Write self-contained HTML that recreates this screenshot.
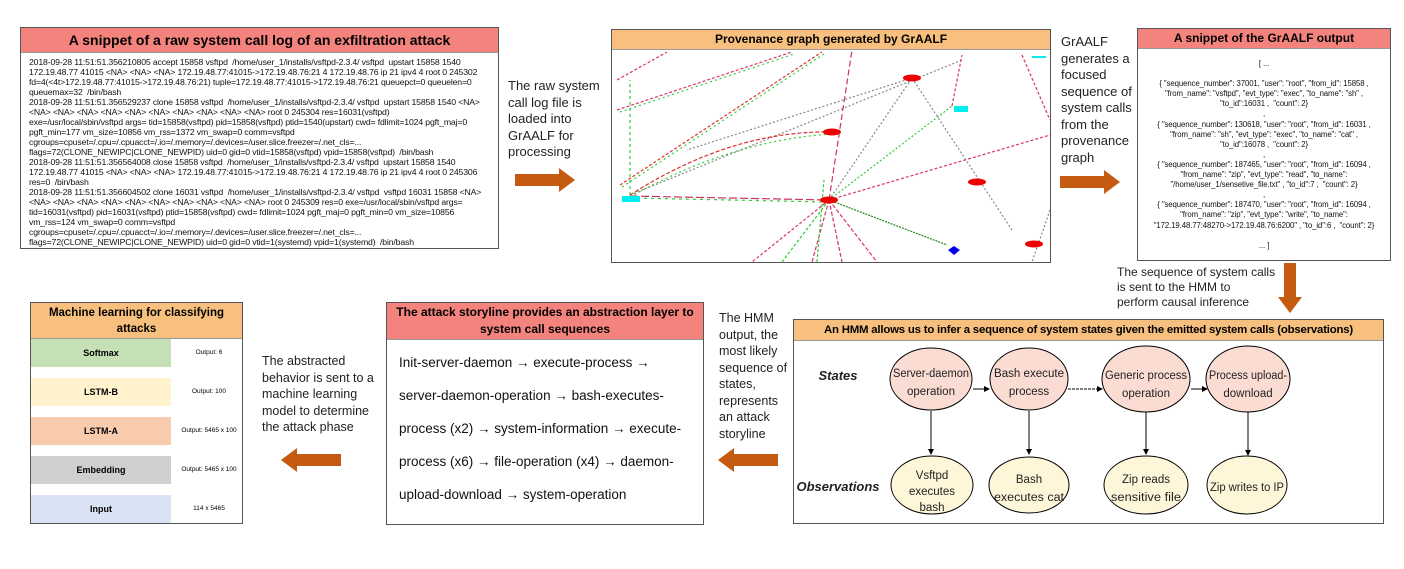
<!DOCTYPE html>
<html><head><meta charset="utf-8"><style>
body{margin:0;width:1404px;height:569px;background:#fff;position:relative;overflow:hidden;font-family:"Liberation Sans",sans-serif;color:#000}
.a{position:absolute}
.box{position:absolute;border:1px solid #555;background:#fff;box-sizing:border-box}
.tt{font-weight:bold;text-align:center;box-sizing:border-box;border-bottom:1px solid #999;line-height:1.25}
.red{background:#F4837D}.org{background:#F8C07E}
.txt{position:absolute;font-size:13px;line-height:16.5px;color:#222}
.log{font-size:8.7px;line-height:10px;padding:4px 8px;letter-spacing:-0.15px;color:#111;white-space:nowrap}
.js{font-size:7.8px;line-height:10.1px;text-align:center;color:#111;letter-spacing:-0.1px}
.layer{position:absolute;left:0;width:140px;height:28px;font-size:9px;font-weight:bold;text-align:center;line-height:28px}
.lab{position:absolute;left:144px;width:68px;font-size:6.5px;text-align:center}
.st{font-size:16px;line-height:33px;padding:6px 12px;color:#111}
</style></head><body>

<!-- Box 1 -->
<div class="box" style="left:20px;top:27px;width:479px;height:222px">
<div class="tt red" style="height:25px;font-size:14px;line-height:24px">A snippet of a raw system call log of an exfiltration attack</div>
<div class="log">2018-09-28 11:51:51.356210805 accept 15858 vsftpd &nbsp;/home/user_1/installs/vsftpd-2.3.4/ vsftpd &nbsp;upstart 15858 1540<br>
172.19.48.77 41015 &lt;NA&gt; &lt;NA&gt; &lt;NA&gt; 172.19.48.77:41015-&gt;172.19.48.76:21 4 172.19.48.76 ip 21 ipv4 4 root 0 245302<br>
fd=4(&lt;4t&gt;172.19.48.77:41015-&gt;172.19.48.76:21) tuple=172.19.48.77:41015-&gt;172.19.48.76:21 queuepct=0 queuelen=0<br>
queuemax=32 &nbsp;/bin/bash<br>
2018-09-28 11:51:51.356529237 clone 15858 vsftpd &nbsp;/home/user_1/installs/vsftpd-2.3.4/ vsftpd &nbsp;upstart 15858 1540 &lt;NA&gt;<br>
&lt;NA&gt; &lt;NA&gt; &lt;NA&gt; &lt;NA&gt; &lt;NA&gt; &lt;NA&gt; &lt;NA&gt; &lt;NA&gt; &lt;NA&gt; &lt;NA&gt; root 0 245304 res=16031(vsftpd)<br>
exe=/usr/local/sbin/vsftpd args= tid=15858(vsftpd) pid=15858(vsftpd) ptid=1540(upstart) cwd= fdlimit=1024 pgft_maj=0<br>
pgft_min=177 vm_size=10856 vm_rss=1372 vm_swap=0 comm=vsftpd<br>
cgroups=cpuset=/.cpu=/.cpuacct=/.io=/.memory=/.devices=/user.slice.freezer=/.net_cls=...<br>
flags=72(CLONE_NEWIPC|CLONE_NEWPID) uid=0 gid=0 vtid=15858(vsftpd) vpid=15858(vsftpd) &nbsp;/bin/bash<br>
2018-09-28 11:51:51.356564008 close 15858 vsftpd &nbsp;/home/user_1/installs/vsftpd-2.3.4/ vsftpd &nbsp;upstart 15858 1540<br>
172.19.48.77 41015 &lt;NA&gt; &lt;NA&gt; &lt;NA&gt; 172.19.48.77:41015-&gt;172.19.48.76:21 4 172.19.48.76 ip 21 ipv4 4 root 0 245306<br>
res=0 &nbsp;/bin/bash<br>
2018-09-28 11:51:51.356604502 clone 16031 vsftpd &nbsp;/home/user_1/installs/vsftpd-2.3.4/ vsftpd &nbsp;vsftpd 16031 15858 &lt;NA&gt;<br>
&lt;NA&gt; &lt;NA&gt; &lt;NA&gt; &lt;NA&gt; &lt;NA&gt; &lt;NA&gt; &lt;NA&gt; &lt;NA&gt; &lt;NA&gt; &lt;NA&gt; root 0 245309 res=0 exe=/usr/local/sbin/vsftpd args=<br>
tid=16031(vsftpd) pid=16031(vsftpd) ptid=15858(vsftpd) cwd= fdlimit=1024 pgft_maj=0 pgft_min=0 vm_size=10856<br>
vm_rss=124 vm_swap=0 comm=vsftpd<br>
cgroups=cpuset=/.cpu=/.cpuacct=/.io=/.memory=/.devices=/user.slice.freezer=/.net_cls=...<br>
flags=72(CLONE_NEWIPC|CLONE_NEWPID) uid=0 gid=0 vtid=1(systemd) vpid=1(systemd) &nbsp;/bin/bash</div>
</div>

<div class="txt" style="left:508px;top:78px;width:100px">The raw system call log file is loaded into GrAALF for processing</div>
<svg class="a" style="left:515px;top:168px" width="62" height="24"><polygon points="0,6 44,6 44,0 60,12 44,24 44,18 0,18" fill="#C55A11"/></svg>

<!-- Box 2 provenance -->
<div class="box" style="left:611px;top:29px;width:440px;height:234px">
<div class="tt org" style="height:20px;font-size:12px;line-height:19px">Provenance graph generated by GrAALF</div>
<svg width="438" height="212" style="display:block">
<g stroke-width="1.2" fill="none">
<line x1="8" y1="135" x2="210" y2="2" stroke="#d33" stroke-dasharray="3,2"/>
<line x1="10" y1="137" x2="212" y2="4" stroke="#3c3" stroke-dasharray="2,3"/>
<line x1="5" y1="60" x2="180" y2="2" stroke="#d36" stroke-dasharray="3,2"/>
<line x1="8" y1="62" x2="182" y2="4" stroke="#3c3" stroke-dasharray="2,3"/>
<line x1="5" y1="30" x2="55" y2="2" stroke="#d36" stroke-dasharray="3,2"/>
<line x1="18" y1="145" x2="350" y2="10" stroke="#888" stroke-dasharray="2,2"/>
<line x1="18" y1="145" x2="18" y2="30" stroke="#3c3" stroke-dasharray="3,3"/>
<path d="M18 145 Q 120 80 220 82" stroke="#d33" stroke-dasharray="4,2"/>
<path d="M18 147 Q 120 90 220 84" stroke="#3c3" stroke-dasharray="2,3"/>
<line x1="18" y1="146" x2="217" y2="150" stroke="#c36" stroke-dasharray="8,3"/>
<line x1="18" y1="148" x2="217" y2="152" stroke="#3c3" stroke-dasharray="3,4"/>
<line x1="217" y1="150" x2="240" y2="0" stroke="#c36" stroke-dasharray="6,3"/>
<line x1="217" y1="150" x2="300" y2="28" stroke="#888" stroke-dasharray="2,2"/>
<line x1="217" y1="150" x2="340" y2="56" stroke="#3c3" stroke-dasharray="2,2"/>
<line x1="217" y1="150" x2="438" y2="85" stroke="#d36" stroke-dasharray="3,2"/>
<line x1="217" y1="150" x2="140" y2="212" stroke="#d36" stroke-dasharray="3,2"/>
<line x1="217" y1="150" x2="170" y2="212" stroke="#3c3" stroke-dasharray="3,2"/>
<line x1="217" y1="150" x2="200" y2="212" stroke="#d36" stroke-dasharray="4,2"/>
<line x1="217" y1="150" x2="230" y2="212" stroke="#c36" stroke-dasharray="4,2"/>
<line x1="217" y1="150" x2="265" y2="212" stroke="#d36" stroke-dasharray="4,2"/>
<line x1="217" y1="150" x2="335" y2="195" stroke="#282" stroke-dasharray="2,1"/>
<line x1="300" y1="28" x2="400" y2="180" stroke="#888" stroke-dasharray="2,2"/>
<line x1="300" y1="28" x2="75" y2="100" stroke="#888" stroke-dasharray="2,2"/>
<line x1="340" y1="56" x2="350" y2="5" stroke="#d36" stroke-dasharray="3,2"/>
<line x1="205" y1="212" x2="212" y2="130" stroke="#3c3" stroke-dasharray="3,2"/>
<line x1="410" y1="5" x2="438" y2="70" stroke="#d36" stroke-dasharray="3,2"/>
<line x1="438" y1="160" x2="420" y2="212" stroke="#888" stroke-dasharray="2,2"/>
</g>
<ellipse cx="300" cy="28" rx="9" ry="3.5" fill="#e00"/>
<ellipse cx="220" cy="82" rx="9" ry="3.5" fill="#e00"/>
<ellipse cx="217" cy="150" rx="9" ry="3.5" fill="#e00"/>
<ellipse cx="365" cy="132" rx="9" ry="3.5" fill="#e00"/>
<ellipse cx="422" cy="194" rx="9" ry="3.5" fill="#e00"/>
<rect x="10" y="146" width="18" height="6" fill="#0ee"/>
<rect x="342" y="56" width="14" height="6" fill="#0ee"/>
<rect x="420" y="6" width="14" height="2" fill="#0ee"/>
<polygon points="336,200 342,196 348,200 342,205" fill="#00e"/>
</svg>
</div>

<div class="txt" style="left:1061px;top:34px;width:80px">GrAALF generates a focused sequence of system calls from the provenance graph</div>
<svg class="a" style="left:1060px;top:170px" width="62" height="24"><polygon points="0,6 44,6 44,0 60,12 44,24 44,18 0,18" fill="#C55A11"/></svg>

<!-- Box 3 -->
<div class="box" style="left:1137px;top:28px;width:254px;height:233px">
<div class="tt red" style="height:20px;font-size:12px;line-height:19px">A snippet of the GrAALF output</div>
<div class="js" style="padding-top:10px">[ ...<br><br>{ "sequence_number": 37001, "user": "root", "from_id": 15858 ,<br>"from_name": "vsftpd", "evt_type": "exec", "to_name": "sh" ,<br>"to_id":16031 , &nbsp;"count": 2}<br>,<br>{ "sequence_number": 130618, "user": "root", "from_id": 16031 ,<br>"from_name": "sh", "evt_type": "exec", "to_name": "cat" ,<br>"to_id":16078 , &nbsp;"count": 2}<br>,<br>{ "sequence_number": 187465, "user": "root", "from_id": 16094 ,<br>"from_name": "zip", "evt_type": "read", "to_name":<br>"/home/user_1/sensetive_file.txt" , "to_id":7 , &nbsp;"count": 2}<br>,<br>{ "sequence_number": 187470, "user": "root", "from_id": 16094 ,<br>"from_name": "zip", "evt_type": "write", "to_name":<br>"172.19.48.77:48270-&gt;172.19.48.76:6200" , "to_id":6 , &nbsp;"count": 2}<br><br>... ]</div>
</div>

<div class="txt" style="left:1117px;top:265px;width:175px;font-size:12px;line-height:15px;white-space:nowrap">The sequence of system calls<br>is sent to the HMM to<br>perform causal inference</div>
<svg class="a" style="left:1278px;top:263px" width="24" height="52"><polygon points="6,0 18,0 18,34 24,34 12,50 0,34 6,34" fill="#C55A11"/></svg>

<!-- HMM box -->
<div class="box" style="left:793px;top:319px;width:591px;height:205px">
<div class="tt org" style="height:21px;font-size:11.4px;line-height:20px;white-space:nowrap;letter-spacing:-0.2px">An HMM allows us to infer a sequence of system states given the emitted system calls (observations)</div>
</div>
<svg class="a" style="left:793px;top:319px" width="591" height="205" font-family="Liberation Sans, sans-serif" font-size="11.5" text-anchor="middle" fill="#222">
<defs><marker id="m" markerWidth="6" markerHeight="6" refX="5" refY="3" orient="auto"><path d="M0,0 L6,3 L0,6z" fill="#000"/></marker></defs>
<text x="45" y="61" font-weight="bold" font-style="italic" font-size="13">States</text>
<text x="45" y="172" font-weight="bold" font-style="italic" font-size="13">Observations</text>
<g stroke="#000" stroke-width="1" marker-end="url(#m)">
<line x1="180" y1="70" x2="196" y2="70"/>
<line x1="275" y1="70" x2="309" y2="70" stroke-dasharray="3,1"/>
<line x1="398" y1="70" x2="414" y2="70"/>
<line x1="138" y1="92" x2="138" y2="135"/>
<line x1="236" y1="92" x2="236" y2="135"/>
<line x1="353" y1="92" x2="353" y2="135"/>
<line x1="455" y1="92" x2="455" y2="136"/>
</g>
<g fill="#FBDCD3" stroke="#000">
<ellipse cx="138" cy="60" rx="41" ry="31"/>
<ellipse cx="236" cy="60" rx="39" ry="31"/>
<ellipse cx="353" cy="60" rx="44" ry="33"/>
<ellipse cx="455" cy="60" rx="42" ry="33"/>
</g>
<g fill="#FDF6D8" stroke="#000">
<ellipse cx="139" cy="166" rx="41" ry="29"/>
<ellipse cx="236" cy="166" rx="40" ry="28"/>
<ellipse cx="353" cy="166" rx="42" ry="29"/>
<ellipse cx="454" cy="166" rx="40" ry="29"/>
</g>
<text x="138" y="58" textLength="76" lengthAdjust="spacingAndGlyphs">Server-daemon</text><text x="138" y="76">operation</text>
<text x="236" y="58" textLength="70" lengthAdjust="spacingAndGlyphs">Bash execute</text><text x="236" y="76">process</text>
<text x="353" y="60" textLength="82" lengthAdjust="spacingAndGlyphs">Generic process</text><text x="353" y="78">operation</text>
<text x="455" y="60" textLength="78" lengthAdjust="spacingAndGlyphs">Process upload-</text><text x="455" y="78">download</text>
<text x="139" y="160">Vsftpd</text><text x="139" y="176">executes</text><text x="139" y="192">bash</text>
<text x="236" y="164">Bash</text><text x="236" y="182" textLength="70" lengthAdjust="spacingAndGlyphs">executes cat</text>
<text x="353" y="164">Zip reads</text><text x="353" y="182" textLength="70" lengthAdjust="spacingAndGlyphs">sensitive file</text>
<text x="454" y="172" textLength="74" lengthAdjust="spacingAndGlyphs">Zip writes to IP</text>
</svg>

<div class="txt" style="left:719px;top:310px;width:72px;font-size:12.5px;line-height:16.5px">The HMM output, the most likely sequence of states, represents an attack storyline</div>
<svg class="a" style="left:718px;top:448px" width="62" height="24"><polygon points="60,6 16,6 16,0 0,12 16,24 16,18 60,18" fill="#C55A11"/></svg>

<!-- Storyline box -->
<div class="box" style="left:386px;top:302px;width:318px;height:223px">
<div class="tt red" style="height:37px;font-size:12px;line-height:17px;padding-top:1px">The attack storyline provides an abstraction layer to system call sequences</div>
<div class="st" style="font-size:13.5px">Init-server-daemon → execute-process → server-daemon-operation → bash-executes-process (x2) → system-information → execute-process (x6) → file-operation (x4) → daemon-upload-download → system-operation</div>
</div>

<div class="txt" style="left:262px;top:353px;width:120px;font-size:12.5px;line-height:16.5px">The abstracted behavior is sent to a machine learning model to determine the attack phase</div>
<svg class="a" style="left:281px;top:448px" width="62" height="24"><polygon points="60,6 16,6 16,0 0,12 16,24 16,18 60,18" fill="#C55A11"/></svg>

<!-- ML box -->
<div class="box" style="left:30px;top:302px;width:213px;height:222px">
<div class="tt org" style="height:36px;font-size:11.5px;line-height:16px;padding-top:2px">Machine learning for classifying attacks</div>
<div style="position:relative">
<div class="layer" style="top:0;background:#C5E0B4">Softmax</div><div class="lab" style="top:10px">Output: 6</div>
<div class="layer" style="top:39px;background:#FFF2CC">LSTM-B</div><div class="lab" style="top:49px">Output: 100</div>
<div class="layer" style="top:78px;background:#F8CBAD">LSTM-A</div><div class="lab" style="top:88px">Output: 5465 x 100</div>
<div class="layer" style="top:117px;background:#D0CECE">Embedding</div><div class="lab" style="top:127px">Output: 5465 x 100</div>
<div class="layer" style="top:156px;background:#DAE3F3">Input</div><div class="lab" style="top:166px">114 x 5465</div>
</div>
</div>

</body></html>
